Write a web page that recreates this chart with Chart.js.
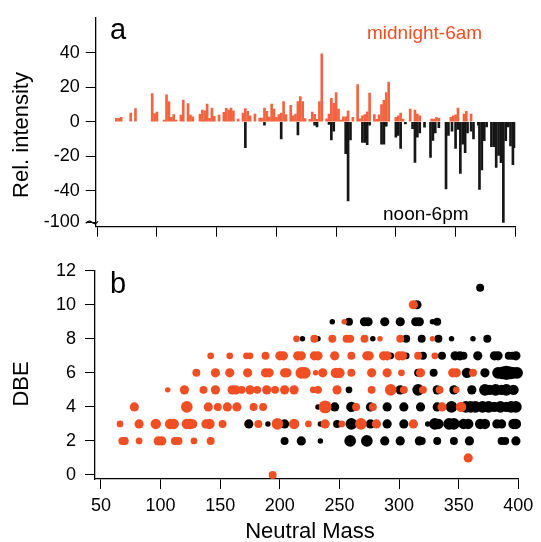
<!DOCTYPE html>
<html>
<head>
<meta charset="utf-8">
<script src="https://cdn.jsdelivr.net/npm/chart.js@4/dist/chart.umd.min.js"></script>
<style>
  html, body { margin:0; padding:0; background:#fff; }
  #wrap { position:relative; width:541px; height:542px; overflow:hidden; }
  canvas { position:absolute; left:0; }
</style>
</head>
<body>
<div id="wrap">
  <canvas id="c1" width="541" height="250" style="top:0"></canvas>
  <canvas id="c2" width="541" height="292" style="top:250px"></canvas>
</div>
<script>
// ---------- DATA ----------
// Panel a: stick spectrum, relative intensity vs neutral mass
const nightMass = [66,68,70,78,82,96,98,100,106,108,110,112,114,116,120,122,126,128,130,136,138,140,142,144,146,148,152,156,158,160,162,164,168,172,174,176,178,182,186,188,190,192,194,196,198,200,202,204,206,208,212,214,216,218,220,222,224,228,230,232,234,236,238,242,244,246,248,250,252,254,256,258,260,264,268,270,272,274,276,278,282,284,286,288,290,292,294,300,302,304,306,312,316,318,320,330,332,334,336,346,348,350,352,357,359,363];
const nightInt  = [2,2,2.5,5,7.6,16.3,4.8,5.6,1,15.7,11.7,2.5,4.1,1,3.9,12.6,10.5,3.9,2.9,4.3,6.8,6.4,10.3,2,8,3.1,3.9,5.5,7.8,6.8,8,6.4,1.5,5,7.7,6,3.5,4.5,2.1,2.1,8,6,2.7,10.3,7.4,2.5,4.1,5,11.7,4.1,9.5,3.5,4.5,11.7,14.6,11.7,1.9,1.4,5.6,4.3,1.4,11.7,39.5,1.7,4.5,13.6,10.7,16.9,7.4,1,2.9,2.9,6.4,2.5,21.6,1.7,3.5,4.1,5.8,16.7,4.1,1.4,4,10,12.5,17,23,2.6,3.5,5,1.5,7.4,6.8,4.5,3.5,1.5,1.5,2.6,2,2.6,3.5,4,8,4.5,6,4.5];
const dayMass = [174,190,204,218,232,234,244,246,248,258,260,262,272,274,276,278,288,290,292,300,302,304,308,314,316,318,320,324,329,331,333,336,342,344,347,350,352,354,356,358,360,363,365,369,370,372,374,376,380,382,384,386,388,390,392,394,396,398,399.5];
const dayInt  = [-15,-2,-10,-7.7,-2,-3,-1.5,-10.5,-5.5,-18.5,-46,-10.5,-12,-12,-13.3,-2,-13,-13,-2.5,-9,-8,-15.5,-1.2,-4,-23.6,-9,-6.5,-3.2,-20.8,-10.8,-6.5,-3.4,-39,-8,-5.5,-15.5,-4.5,-30,-13,-18,-6.5,-5.5,-10,-2,-39.3,-28,-11,-3,-14.5,-14.5,-26.5,-19.5,-23.8,-100,-11,-3,-14,-25,-15];
const massTicks = [50,100,150,200,250,300,350,400];
const intensityTicks = [-100,-40,-20,0,20,40];

// Panel b: [neutral mass, DBE, relative abundance]
const nightSpots = [
  [194,0,4],[358,1,5],
  [68,2,4],[70,2,4],[82,2,3],[98,2,5],[101,2,5],[112,2,4],[115,2,4],[128,2,3],[142,2,4],
  [66,3,3],[82,3,5],[96,3,6],[108,3,6],[111,3,6],[122,3,6],[125,3,6],[127,3,5],[138,3,5],[141,3,6],[152,3,4],[182,3,4],[198,3,7],[212,3,6],[224,3,3],[238,3,5],[252,3,3],[268,3,7],[281,3,5],[312,3,5],
  [78,4,5],[122,4,7],[140,4,5],[148,4,4],[156,4,5],[164,4,5],[178,4,4],[186,4,4],[238,4,8],[264,4,4],[278,4,4],[336,4,5],[352,4,6],
  [106,5,2],[120,5,5],[136,5,4],[146,5,5],[160,5,5],[163,5,5],[168,5,4],[175,5,5],[181,5,4],[189,5,5],[196,5,4],[204,5,5],[212,5,5],[228,5,3],[232,5,4],[248,5,5],[277,5,4],[293,5,7],[304,5,4],[320,5,4],[334,5,4],[348,5,3],
  [130,6,4],[146,6,5],[158,6,5],[173,6,5],[188,6,5],[191,6,5],[204,6,5],[206,6,5],[218,6,7],[221,6,7],[230,6,2],[236,6,5],[247,6,6],[250,6,6],[260,6,4],[277,6,5],[290,6,5],[302,6,3],[318,6,5],[345,6,5],[348,6,5],[362,6,4],
  [142,7,3],[158,7,3],[172,7,3],[175,7,3],[188,7,4],[200,7,5],[203,7,5],[215,7,5],[218,7,5],[229,7,5],[232,7,5],[246,7,5],[260,7,4],[273,7,5],[275,7,5],[287,7,5],[290,7,5],[300,7,5],[303,7,5],[316,7,4],[330,7,3],
  [214,8,3],[229,8,4],[244,8,4],[256,8,4],[259,8,4],[271,8,4],[284,8,2],[301,8,4],[328,8,2],
  [254,9,2],[312,10,5]
];
const daySpots = [
  [204,2,4],[218,2,5],[234,2,2],[259,2,7],[273,2,7],[288,2,5],[301,2,5],[317,2,5],[319,2,4],[332,2,4],[346,2,4],[359,2,5],[386,2,4],[389,2,4],[398,2,5],
  [174,3,5],[190,3,2],[204,3,5],[234,3,2],[248,3,4],[260,3,7],[276,3,5],[290,3,5],[304,3,5],[324,3,2],[330,3,7],[333,3,6],[342,3,7],[346,3,7],[354,3,6],[358,3,6],[368,3,6],[372,3,6],[382,3,5],[386,3,5],[396,3,6],[398,3,6],
  [232,4,2],[246,4,5],[260,4,6],[276,4,5],[290,4,5],[304,4,5],[318,4,5],[332,4,5],[344,4,7],[356,4,7],[360,4,7],[364,4,7],[370,4,7],[375,4,7],[380,4,6],[385,4,7],[390,4,6],[394,4,7],[398,4,7],
  [258,5,3],[301,5,5],[316,5,7],[332,5,5],[346,5,5],[361,5,5],[372,5,7],[376,5,6],[381,5,7],[386,5,6],[390,5,7],[396,5,6],
  [316,6,4],[329,6,4],[357,6,6],[372,6,5],[383,6,7],[387,6,8],[390,6,9],[393,6,8],[396,6,7],[399,6,7],
  [293,7,3],[306,7,3],[320,7,4],[336,7,4],[347,7,5],[351,7,5],[354,7,4],[366,7,5],[380,7,5],[383,7,5],[392,7,4],[395,7,4],[398,7,5],
  [219,8,2],[232,8,2],[278,8,2],[306,8,4],[319,8,4],[333,8,4],[344,8,2],[362,8,2],[374,8,4],
  [244,9,2],[258,9,4],[271,9,5],[274,9,5],[288,9,5],[301,9,5],[314,9,5],[317,9,5],[328,9,2],[332,9,4],
  [315,10,5],[368,11,4]
];
const dbeTicks = [0,2,4,6,8,10,12];

// ---------- STYLE / HELPERS ----------
const ORANGE = '#f04e23';
const FONT = "'Liberation Sans', Arial, Helvetica, sans-serif";
Chart.defaults.font.family = FONT;
Chart.defaults.font.size = 18;
Chart.defaults.color = '#000';

// axis break: values below -50 are compressed
function brk(v) { return v >= -50 ? v : -50 + (v + 50) * 0.17; }
function radius(a) { return 1.5 + a * 0.62; }

function textPlugin(items, extra) {
  return {
    id: 'annot',
    afterDraw(chart) {
      const ctx = chart.ctx;
      items.forEach(t => {
        ctx.save();
        ctx.font = t.font;
        ctx.fillStyle = t.color || '#000';
        ctx.textAlign = t.align || 'left';
        ctx.textBaseline = t.baseline || 'alphabetic';
        ctx.translate(t.x, t.y);
        if (t.rot) ctx.rotate(t.rot);
        ctx.fillText(t.text, 0, 0);
        ctx.restore();
      });
      if (extra) extra(chart);
    }
  };
}

function axisCommon(extra) {
  return Object.assign({
    grid: { display: true, drawOnChartArea: false, drawTicks: true, tickLength: 10, color: '#000', lineWidth: 1, offset: false },
    border: { display: true, color: '#000', width: 1.3 },
    offset: false
  }, extra);
}

// ---------- PANEL a ----------
new Chart(document.getElementById('c1'), {
  type: 'bar',
  data: {
    datasets: [
      { label: 'midnight-6am', data: nightMass.map((m, i) => ({ x: m, y: nightInt[i] })),
        backgroundColor: '#f2643f', barThickness: 2, grouped: false, order: 0 },
      { label: 'noon-6pm', data: dayMass.map((m, i) => ({ x: m, y: brk(dayInt[i]) })),
        backgroundColor: '#161616', barThickness: 2, grouped: false, order: 1 }
    ]
  },
  options: {
    responsive: false, animation: false,
    layout: { padding: { left: 0, right: 25.7, top: 18, bottom: 0 } },
    plugins: { legend: { display: false }, tooltip: { enabled: false } },
    scales: {
      x: axisCommon({
        type: 'linear', min: 48.7, max: 400,
        afterBuildTicks: s => { s.ticks = massTicks.map(v => ({ value: v })); },
        ticks: { callback: () => '' },
        afterFit: s => { s.height = 23.3; }
      }),
      y: axisCommon({
        type: 'linear', min: -61, max: 60.3,
        afterBuildTicks: s => { s.ticks = intensityTicks.map(v => ({ value: brk(v) })); },
        ticks: { padding: 6, callback: (v, i) => String(intensityTicks[i]) },
        afterFit: s => { s.width = 95.7; }
      })
    }
  },
  plugins: [textPlugin([
    { text: 'a', x: 110, y: 39, font: '29px ' + FONT },
    { text: 'midnight-6am', x: 367, y: 39, font: '19px ' + FONT, color: ORANGE },
    { text: 'noon-6pm', x: 383, y: 220, font: '19px ' + FONT },
    { text: 'Rel. intensity', x: 22, y: 135, font: '22px ' + FONT, align: 'center', baseline: 'middle', rot: -Math.PI / 2 }
  ], chart => {
    const ctx = chart.ctx;
    const y = chart.scales.y.getPixelForValue(brk(-100));
    ctx.save();
    ctx.strokeStyle = '#000'; ctx.lineWidth = 1.2;
    ctx.beginPath();
    ctx.moveTo(86, y + 1);
    ctx.quadraticCurveTo(89, y - 3, 92, y);
    ctx.quadraticCurveTo(95, y + 3, 98, y - 1);
    ctx.stroke();
    ctx.restore();
  })]
});

// ---------- PANEL b ----------
new Chart(document.getElementById('c2'), {
  type: 'bubble',
  data: {
    datasets: [
      { label: 'midnight-6am', data: nightSpots.map(p => ({ x: p[0], y: p[1], r: radius(p[2]) })),
        backgroundColor: ORANGE, borderWidth: 0, order: 0, clip: false },
      { label: 'noon-6pm', data: daySpots.map(p => ({ x: p[0], y: p[1], r: radius(p[2]) })),
        backgroundColor: '#000', borderWidth: 0, order: 1, clip: false }
    ]
  },
  options: {
    responsive: false, animation: false,
    layout: { padding: { left: 0, right: 22.7, top: 20.7, bottom: 0 } },
    plugins: { legend: { display: false }, tooltip: { enabled: false } },
    scales: {
      x: axisCommon({
        type: 'linear', min: 45, max: 400,
        afterBuildTicks: s => { s.ticks = massTicks.map(v => ({ value: v })); },
        ticks: { padding: 6, maxRotation: 0 },
        afterFit: s => { s.height = 63; }
      }),
      y: axisCommon({
        type: 'linear', min: -0.235, max: 12,
        afterBuildTicks: s => { s.ticks = dbeTicks.map(v => ({ value: v })); },
        ticks: { padding: 9 },
        afterFit: s => { s.width = 95; }
      })
    }
  },
  plugins: [textPlugin([
    { text: 'b', x: 110, y: 43, font: '29px ' + FONT },
    { text: 'DBE', x: 22, y: 134, font: '22px ' + FONT, align: 'center', baseline: 'middle', rot: -Math.PI / 2 },
    { text: 'Neutral Mass', x: 310, y: 288, font: '22px ' + FONT, align: 'center' }
  ])]
});
</script>
</body>
</html>
